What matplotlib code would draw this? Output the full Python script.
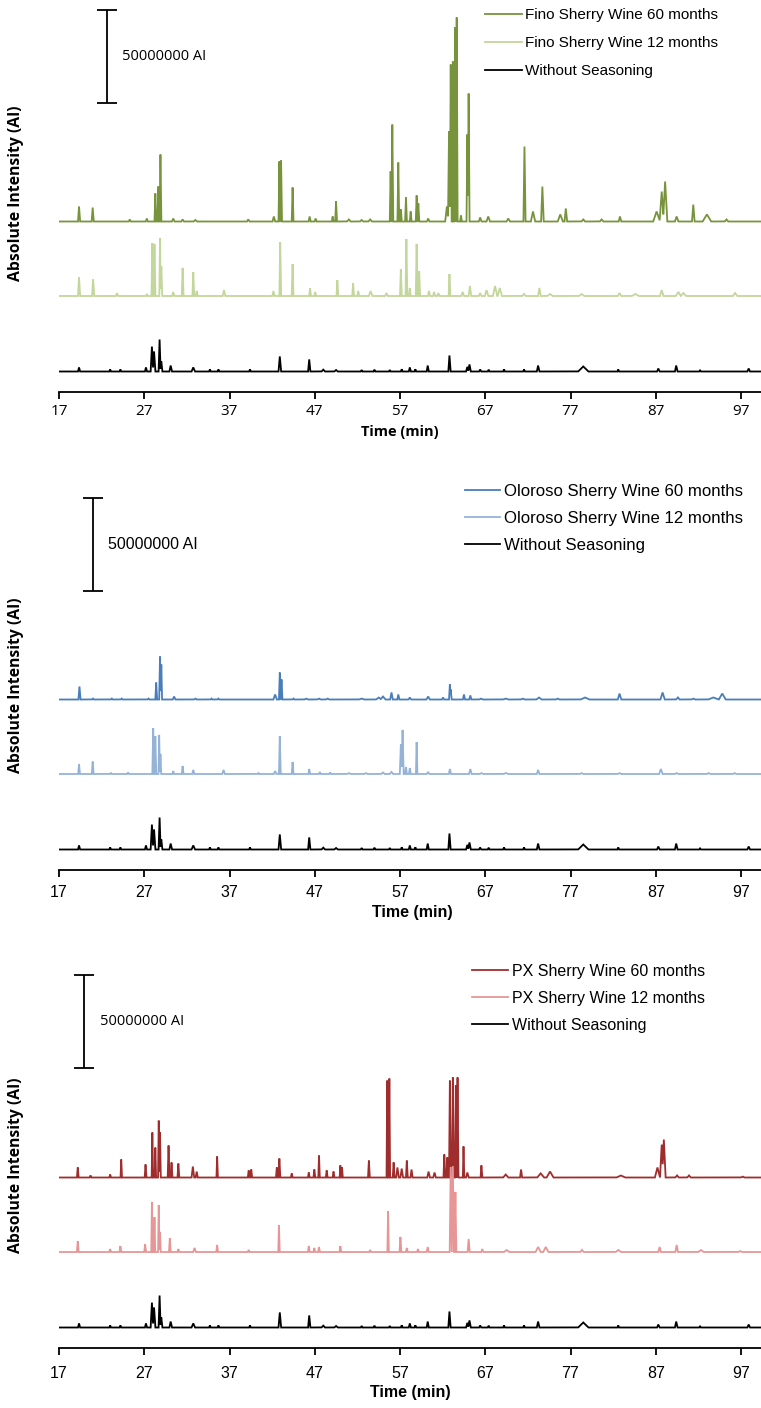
import matplotlib
matplotlib.use("Agg")
import matplotlib.pyplot as plt
import numpy as np

# peaks: (retention time [min], height [million AI], half width [min])
without_seasoning = [
    (19.35, 2.2, .12), (23.0, 1.1, .1), (24.2, 1.1, .1), (27.2, 2.2, .12), (27.9, 13.4, .15),
    (28.15, 10.8, .15), (28.8, 17.2, .12), (29.0, 5.4, .12), (30.1, 3.2, .15), (32.75, 2.2, .2),
    (34.7, 1.1, .1), (35.7, 1.1, .1), (39.4, 1.1, .1), (42.9, 8.1, .15), (46.35, 6.5, .13),
    (48.0, 1.0, .2), (49.5, 0.8, .2), (52.5, 0.8, .1), (54.0, 1.0, .1), (55.8, 0.8, .1),
    (57.2, 1.2, .1), (58.15, 2.2, .12), (58.8, 1.2, .1), (60.25, 3.2, .12), (62.8, 8.6, .13),
    (64.9, 2.5, .15), (65.15, 3.8, .15), (66.4, 1.1, .12), (67.4, 1.0, .1), (69.2, 1.1, .1),
    (71.55, 1.1, .1), (73.2, 3.2, .15), (78.5, 2.7, .6), (82.6, 1.1, .1), (87.3, 1.6, .15),
    (89.4, 3.2, .15), (92.2, 0.6, .1), (97.9, 1.6, .15),
]

fino_60 = [
    (19.35, 8.1, .12), (20.95, 7.5, .12), (25.3, 1.1, .12), (27.3, 1.6, .12), (28.3, 15.1, .1),
    (28.65, 18.8, .1), (28.9, 36.0, .1), (30.4, 1.6, .15), (31.5, 1.1, .15), (33.0, 0.8, .2),
    (39.2, 1.1, .15), (42.2, 2.7, .15), (42.85, 32.3, .1), (43.05, 32.8, .1), (44.4, 18.3, .1),
    (46.4, 2.7, .12), (47.1, 1.6, .12), (49.1, 2.7, .1), (49.5, 10.8, .1), (51.0, 1.1, .2),
    (52.5, 0.8, .2), (53.5, 1.1, .2), (55.9, 26.9, .1), (56.1, 52.1, .1), (56.8, 31.7, .1),
    (57.1, 6.5, .1), (57.7, 12.9, .1), (58.25, 5.4, .1), (58.95, 14.0, .1), (59.15, 9.7, .1),
    (60.3, 1.6, .15), (62.5, 8.1, .2), (62.75, 48.4, .12), (62.95, 84.4, .1), (63.2, 86.0, .1),
    (63.45, 104.3, .1), (63.65, 109.7, .1), (64.15, 3.2, .1), (64.9, 46.8, .1), (65.05, 68.8, .1),
    (66.4, 2.2, .15), (67.35, 2.7, .2), (69.7, 1.6, .2), (71.6, 40.3, .12), (72.6, 5.4, .25),
    (73.7, 18.8, .15), (75.8, 3.8, .3), (76.45, 7.0, .15), (78.5, 1.1, .2), (80.65, 1.1, .2),
    (82.8, 2.7, .15), (87.1, 5.4, .4), (87.7, 16.1, .25), (88.1, 21.5, .25), (89.45, 2.7, .2),
    (91.4, 9.1, .15), (93.0, 3.8, .5), (95.3, 1.1, .2),
]

fino_12 = [
    (19.35, 10.2, .12), (21.0, 9.1, .12), (23.8, 1.6, .12), (27.3, 1.1, .1), (27.95, 28.5, .1),
    (28.2, 28.0, .1), (28.85, 31.2, .08), (29.0, 16.1, .1), (30.4, 2.2, .12), (31.5, 15.1, .1),
    (32.75, 12.9, .1), (33.15, 2.7, .1), (36.35, 3.2, .15), (42.15, 2.7, .12), (42.95, 29.0, .1),
    (44.4, 17.2, .1), (46.45, 4.3, .1), (47.05, 2.2, .1), (49.65, 8.6, .1), (51.5, 7.0, .1),
    (52.1, 2.7, .1), (53.55, 2.7, .2), (55.4, 1.6, .15), (57.1, 14.5, .1), (57.75, 30.6, .1),
    (58.15, 4.3, .1), (58.95, 28.0, .1), (59.25, 13.4, .1), (60.4, 2.7, .12), (61.0, 2.2, .12),
    (61.5, 1.6, .12), (62.8, 11.8, .1), (64.35, 2.2, .15), (65.2, 5.4, .15), (66.4, 1.6, .15),
    (67.15, 3.2, .2), (68.15, 5.4, .25), (68.7, 4.3, .25), (71.55, 1.1, .2), (73.35, 4.3, .15),
    (74.6, 1.1, .3), (78.3, 1.1, .3), (82.75, 1.6, .2), (84.6, 1.1, .4), (87.7, 3.2, .2),
    (89.65, 2.2, .3), (90.25, 1.6, .3), (96.3, 1.6, .25),
]

oloroso_60 = [
    (19.4, 7.0, .12), (21.0, 0.5, .1), (23.2, 0.5, .1), (24.35, 0.5, .1), (27.5, 0.5, .1),
    (28.4, 9.1, .1), (28.85, 23.1, .1), (29.0, 18.8, .08), (30.5, 1.6, .15), (33.0, 0.5, .15),
    (34.9, 0.5, .1), (35.7, 0.5, .1), (42.35, 2.7, .2), (42.9, 14.5, .1), (43.1, 10.8, .1),
    (44.5, 0.5, .1), (46.0, 0.5, .2), (47.5, 0.5, .2), (48.5, 0.5, .2), (52.5, 0.5, .3),
    (54.5, 1.1, .3), (55.0, 1.6, .3), (56.0, 3.8, .15), (56.8, 2.7, .12), (58.15, 1.1, .15),
    (60.3, 1.6, .2), (62.05, 1.1, .12), (62.85, 8.1, .1), (62.95, 5.4, .1), (64.5, 2.7, .12),
    (65.25, 2.2, .12), (66.5, 0.5, .2), (69.4, 0.5, .3), (71.4, 0.5, .2), (73.3, 1.1, .3),
    (75.5, 0.5, .2), (78.7, 1.1, .5), (82.75, 3.2, .2), (87.8, 3.8, .25), (89.6, 1.1, .2),
    (91.4, 0.5, .2), (93.75, 1.1, .6), (94.8, 3.2, .4),
]

oloroso_12 = [
    (19.35, 5.4, .1), (20.95, 6.7, .1), (23.1, 0.5, .1), (25.1, 0.8, .1), (28.05, 24.7, .1),
    (28.3, 20.4, .1), (28.75, 21.0, .08), (28.9, 10.8, .08), (30.4, 1.6, .1), (31.5, 4.3, .1),
    (32.75, 2.2, .12), (36.3, 2.2, .15), (40.4, 0.5, .1), (42.35, 1.6, .15), (42.9, 20.4, .1),
    (44.4, 6.5, .1), (46.35, 2.7, .1), (47.6, 1.1, .1), (48.8, 0.8, .1), (51.0, 0.5, .2),
    (53.0, 0.5, .2), (55.0, 0.8, .2), (56.0, 1.1, .2), (57.1, 16.1, .12), (57.3, 23.7, .12),
    (57.7, 3.8, .1), (58.15, 3.2, .1), (58.95, 17.2, .08), (60.3, 1.1, .15), (62.85, 2.7, .12),
    (65.25, 2.7, .15), (66.55, 0.5, .2), (69.4, 0.5, .3), (73.2, 2.2, .15), (78.3, 0.5, .2),
    (82.75, 0.5, .2), (87.6, 2.7, .2), (89.45, 0.5, .2), (93.2, 0.5, .2), (96.25, 0.5, .2),
]

px_60 = [
    (19.2, 5.4, .1), (20.7, 1.1, .1), (23.0, 1.6, .1), (24.3, 9.7, .08), (27.15, 7.0, .1),
    (27.95, 24.2, .08), (28.3, 16.1, .08), (28.7, 30.6, .08), (28.85, 24.2, .08), (29.85, 17.2, .1),
    (30.2, 8.1, .1), (31.0, 7.5, .1), (32.7, 5.9, .15), (33.15, 3.2, .12), (35.55, 11.3, .08),
    (39.25, 3.8, .1), (39.55, 4.3, .1), (42.55, 5.4, .1), (42.85, 10.2, .1), (44.3, 2.2, .1),
    (46.3, 2.7, .1), (46.95, 4.3, .1), (47.5, 11.8, .08), (48.4, 3.8, .1), (49.2, 3.2, .1),
    (50.0, 6.5, .08), (50.2, 5.4, .08), (53.35, 9.1, .1), (55.5, 52.1, .08), (55.75, 53.2, .08),
    (56.25, 8.1, .1), (56.7, 5.4, .15), (57.2, 4.8, .15), (57.8, 9.1, .1), (58.35, 4.3, .12),
    (60.35, 3.2, .15), (61.05, 2.7, .15), (62.2, 12.4, .1), (62.55, 10.8, .1), (62.85, 52.1, .1),
    (63.2, 53.8, .1), (63.55, 49.5, .1), (63.75, 53.8, .1), (64.45, 16.7, .08), (64.9, 2.7, .15),
    (66.55, 6.5, .1), (69.4, 1.6, .3), (71.2, 4.3, .12), (73.5, 2.2, .4), (74.6, 3.2, .4),
    (82.9, 1.1, .5), (87.2, 5.4, .3), (87.7, 17.7, .2), (87.95, 20.4, .2), (89.5, 1.1, .2),
    (90.9, 1.1, .2), (97.2, 0.5, .2),
]

px_12 = [
    (19.2, 5.9, .1), (23.0, 1.6, .1), (24.2, 3.2, .1), (27.1, 4.3, .1), (27.9, 26.9, .08),
    (28.2, 18.8, .08), (28.7, 25.3, .08), (28.85, 10.8, .08), (30.0, 7.5, .1), (31.0, 1.6, .1),
    (32.9, 2.2, .15), (35.55, 3.8, .1), (39.25, 1.1, .1), (42.8, 14.5, .08), (46.3, 3.2, .1),
    (46.95, 2.2, .1), (47.5, 2.7, .1), (50.0, 3.2, .1), (53.5, 1.1, .1), (55.6, 22.0, .08),
    (57.05, 8.1, .1), (57.8, 2.2, .1), (59.1, 1.6, .1), (60.25, 2.7, .12), (62.95, 45.7, .12),
    (63.2, 46.2, .12), (63.5, 32.3, .1), (65.05, 7.0, .12), (66.65, 1.6, .12), (69.5, 1.1, .3),
    (73.2, 2.7, .3), (74.1, 2.7, .3), (78.35, 1.1, .2), (82.6, 1.1, .3), (87.45, 2.7, .15),
    (89.45, 3.8, .15), (92.3, 1.1, .3), (96.9, 0.5, .2),
]

x_ticks = [17, 27, 37, 47, 57, 67, 77, 87, 97]

W, H = 761, 1408
MPX = 50.0 / 93.0          # million AI per pixel (scale bar = 93 px)
ARIAL = 'Liberation Sans'

panels = [
    dict(top=0, bottom=392, names=['Fino Sherry Wine 60 months', 'Fino Sherry Wine 12 months'],
         colors=['#77933C', '#C3D69B'], data=[fino_60, fino_12],
         bar_x=22.63, bar_y=335.5, text_x=24.35, leg_x=485, leg_top=8, leg_font=dict(family=ARIAL, size=11),
         leg_len=2.4, leg_pad=0.25, leg_space=0.93, bar_font=dict(family='Open Sans', size=10.5),
         tick_font=dict(family='Open Sans', size=11), tick_pad=4, xlab_x=400, xlab_y=432,
         xlab_font=dict(family='Open Sans', size=10.5), ylab_y=193),
    dict(top=478, bottom=870, names=['Oloroso Sherry Wine 60 months', 'Oloroso Sherry Wine 12 months'],
         colors=['#4A7EBB', '#95B3D7'], data=[oloroso_60, oloroso_12],
         bar_x=21.0, bar_y=326, text_x=22.75, leg_x=465, leg_top=484, leg_font=dict(family=ARIAL, size=12.1),
         leg_len=2.1, leg_pad=0.2, leg_space=0.7, bar_font=dict(family=ARIAL, size=11.5),
         tick_font=dict(family=ARIAL, size=11.5), tick_pad=6, xlab_x=412, xlab_y=913,
         xlab_font=dict(family=ARIAL, size=11.5), ylab_y=685),
    dict(top=956, bottom=1348, names=['PX Sherry Wine 60 months', 'PX Sherry Wine 12 months'],
         colors=['#A02D2D', '#E69696'], data=[px_60, px_12],
         bar_x=19.9, bar_y=326.5, text_x=21.8, leg_x=472, leg_top=964, leg_font=dict(family=ARIAL, size=11.5),
         leg_len=2.25, leg_pad=0.25, leg_space=0.74, bar_font=dict(family='Open Sans', size=10.5),
         tick_font=dict(family=ARIAL, size=11.5), tick_pad=8, xlab_x=410, xlab_y=1393,
         xlab_font=dict(family=ARIAL, size=11.5), ylab_y=1165),
]

t = np.arange(17, 99.5, 0.01)


def trace(peaks):
    y = np.zeros_like(t)
    for c, h, w in peaks:
        y = np.maximum(y, np.interp(t, [c - w, c, c + w], [0, h, 0]))
    return y


fig = plt.figure(figsize=(W / 100, H / 100), dpi=100)

for p in panels:
    ax = fig.add_axes([59 / W, 1 - p['bottom'] / H, (W - 59) / W, (p['bottom'] - p['top']) / H])
    offsets = [170.5 * MPX, 96 * MPX, 20.5 * MPX]
    handles = []
    for peaks, col, off in zip(p['data'] + [without_seasoning], p['colors'] + ['black'], offsets):
        ln, = ax.plot(t, trace(peaks) + off, color=col, lw=1.3, solid_joinstyle='miter')
        handles.append(ln)

    ax.set_xlim(17, 17 + (W - 59) / 8.525)
    ax.set_ylim(0, (p['bottom'] - p['top']) * MPX)
    for s in ['left', 'right', 'top']:
        ax.spines[s].set_visible(False)
    ax.spines['bottom'].set_linewidth(1.3)
    ax.set_yticks([])
    ax.set_xticks(x_ticks)
    ax.set_xticklabels([str(v) for v in x_ticks], **p['tick_font'])
    ax.tick_params(axis='x', direction='out', length=5, width=1.3, pad=p['tick_pad'])

    # 50 000 000 AI scale bar
    ax.errorbar([p['bar_x']], [p['bar_y'] * MPX], yerr=25, fmt='none', ecolor='black',
                elinewidth=1.3, capsize=7, capthick=1.3)
    ax.text(p['text_x'], p['bar_y'] * MPX, '50000000 AI', va='center', ha='left', **p['bar_font'])

    ax.legend(handles, p['names'] + ['Without Seasoning'], loc='upper left',
              bbox_to_anchor=(p['leg_x'] / W, 1 - p['leg_top'] / H), bbox_transform=fig.transFigure,
              frameon=False, borderpad=0, borderaxespad=0, handlelength=p['leg_len'],
              handletextpad=p['leg_pad'], labelspacing=p['leg_space'], prop=p['leg_font'])

    fig.text(p['xlab_x'] / W, 1 - p['xlab_y'] / H, 'Time (min)', ha='center', va='center',
             fontweight='bold', **p['xlab_font'])
    fig.text(16 / W, 1 - p['ylab_y'] / H, 'Absolute Intensity (AI)', rotation=90, ha='center',
             va='center', fontweight='bold', family='Open Sans', size=11.3)

fig.savefig('out.png', dpi=100)
